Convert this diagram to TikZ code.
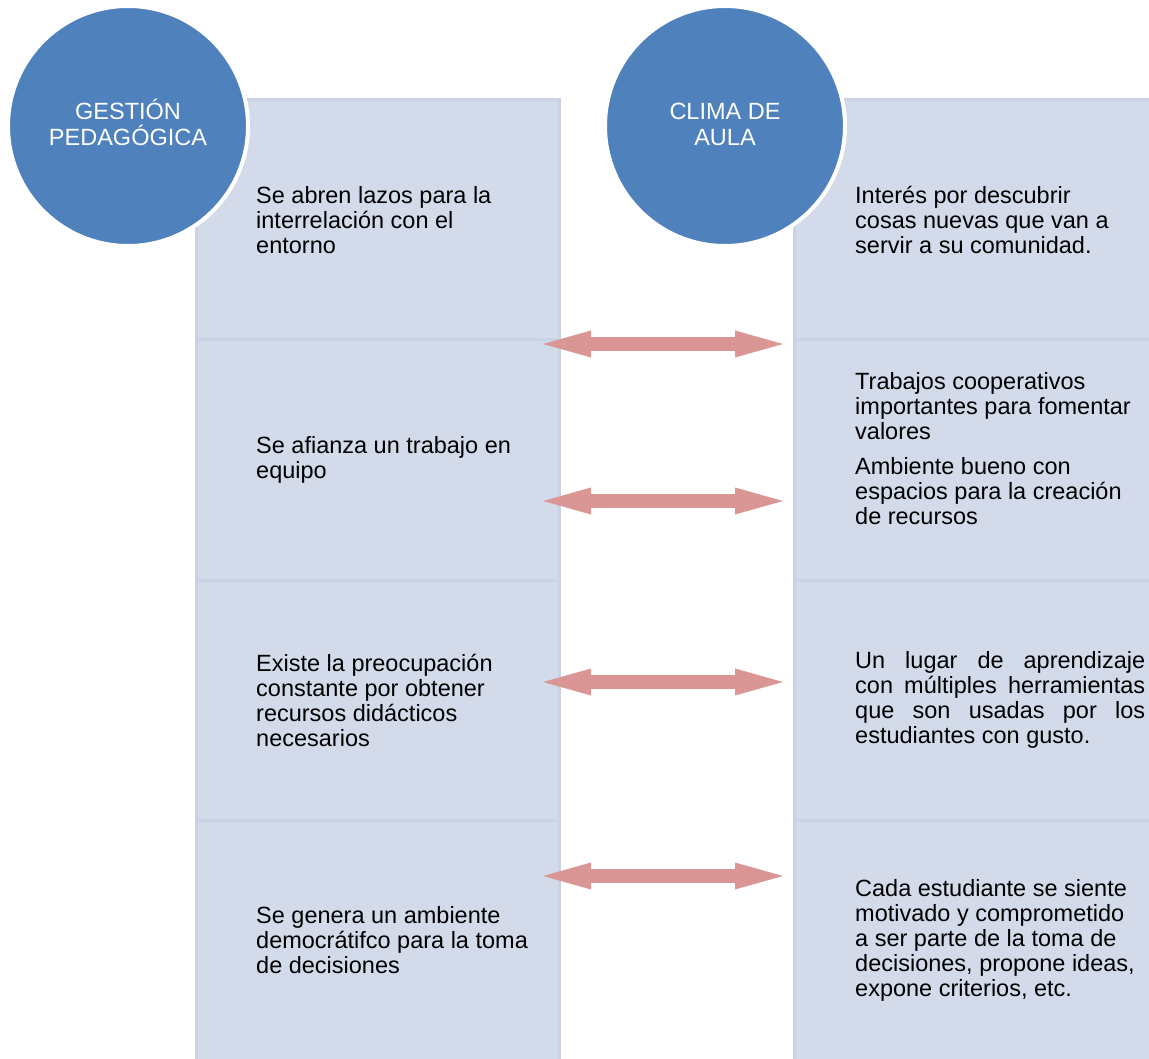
\documentclass[tikz,border=0pt]{standalone}
\usepackage{fontspec}
\setmainfont{Liberation Sans}
\usetikzlibrary{positioning,arrows.meta}

\definecolor{circleblue}{RGB}{79,129,189}
\definecolor{rowfill}{RGB}{211,218,234}
\definecolor{rowline}{RGB}{203,210,228}
\definecolor{arrowpink}{RGB}{217,150,148}

\tikzstyle{rowbox} = [rectangle, fill=rowfill, draw=rowline, line width=3pt,
    minimum width=363pt, minimum height=240pt, inner sep=0pt, outer sep=0pt]
\tikzstyle{headcircle} = [circle, fill=circleblue, draw=white, line width=4pt,
    minimum size=240pt, inner sep=0pt, text=white, align=center,
    font=\fontsize{23.5}{26}\selectfont]
\tikzstyle{rowtext} = [align=left, inner sep=0pt, font=\fontsize{23.5}{25}\selectfont]
\tikzstyle{linkarrow} = [draw=arrowpink, line width=14pt,
    {Triangle[length=48pt,width=27pt,line width=0pt]}-{Triangle[length=48pt,width=27pt,line width=0pt]}]

\begin{document}
\begin{tikzpicture}[x=1pt, y=-1pt]
\useasboundingbox (0,0) rectangle (1149,1059);
\clip (0,0) rectangle (1149,1059);
\node[rowbox] (g1) at (377.5,220) {};
\node[rowbox, below=0pt of g1] (g2) {};
\node[rowbox, below=0pt of g2] (g3) {};
\node[rowbox, below=0pt of g3] (g4) {};
\node[rowbox] (c1) at (975.5,220) {};
\node[rowbox, below=0pt of c1] (c2) {};
\node[rowbox, below=0pt of c2] (c3) {};
\node[rowbox, below=0pt of c3] (c4) {};

\node[headcircle] (gestion) at (128,126) {};
\node[headcircle] (clima) at (725,126) {};
\node[text=white, align=center, font=\fontsize{23.5}{26}\selectfont, yshift=3.5pt] (gestiontxt) at (gestion) {GESTIÓN\\PEDAGÓGICA};
\node[text=white, align=center, font=\fontsize{23.5}{26}\selectfont, yshift=1.5pt] (climatxt) at (clima) {CLIMA DE\\AULA};

\node[rowtext, right=60pt] (gt1) at (g1.west) {Se abren lazos para la\\interrelación con el\\entorno};
\node[rowtext, right=60pt] (gt2) at (g2.west) {Se afianza un trabajo en\\equipo};
\node[rowtext, right=60pt] (gt3) at (g3.west) {Existe la preocupación\\constante por obtener\\recursos didácticos\\necesarios};
\node[rowtext, right=60pt] (gt4) at (g4.west) {Se genera un ambiente\\democrátifco para la toma\\de decisiones};

\node[rowtext, right=61pt] (ct1) at (c1.west) {Interés por descubrir\\cosas nuevas que van a\\servir a su comunidad.};
\node[rowtext, right=61pt, yshift=11pt] (ct2) at (c2.west) {Trabajos cooperativos\\importantes para fomentar\\valores\\[10pt]Ambiente bueno con\\espacios para la creación\\de recursos};
\node[rowtext, right=61pt] (ct3) at (c3.west) {\makebox[290pt][s]{Un lugar de aprendizaje}\\\makebox[290pt][s]{con múltiples herramientas}\\\makebox[290pt][s]{que son usadas por los}\\estudiantes con gusto.};
\node[rowtext, right=61pt] (ct4) at (c4.west) {Cada estudiante se siente\\motivado y comprometido\\a ser parte de la toma de\\decisiones, propone ideas,\\expone criterios, etc.};

\coordinate (la1) at (543,344); \coordinate (ra1) at (783,344);
\coordinate (la2) at (543,501); \coordinate (ra2) at (783,501);
\coordinate (la3) at (543,682); \coordinate (ra3) at (783,682);
\coordinate (la4) at (543,876); \coordinate (ra4) at (783,876);
\draw[linkarrow] (la1) -- (ra1);
\draw[linkarrow] (la2) -- (ra2);
\draw[linkarrow] (la3) -- (ra3);
\draw[linkarrow] (la4) -- (ra4);
\end{tikzpicture}
\end{document}
